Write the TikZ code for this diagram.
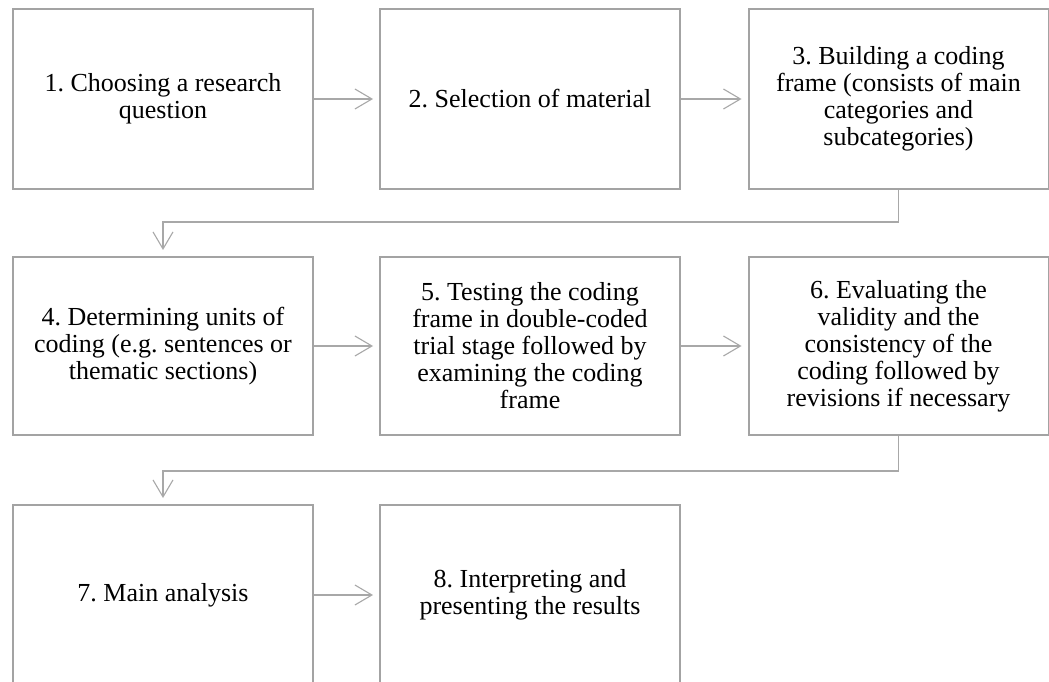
\documentclass[tikz,border=0pt]{standalone}
\usepackage{fontspec}
\setmainfont{Liberation Serif}
\usetikzlibrary{arrows.meta}
\definecolor{boxgray}{HTML}{A3A3A3}
\definecolor{linegray}{HTML}{A8A8A8}
\frenchspacing
\begin{document}
\begin{tikzpicture}[x=1pt,y=1pt,
  stepbox/.style={draw=boxgray, line width=2pt, minimum width=300pt, minimum height=180pt,
    align=center, font=\fontsize{26}{27}\selectfont\frenchspacing, inner sep=0pt, text=black},
  conn/.style={draw=linegray, line width=1.1pt,
    -{Straight Barb[length=17pt,width=20pt,line width=1.1pt]}, shorten >=6pt}]
\clip (0,0) rectangle (1049,681);
\fill[white] (0,0) rectangle (1049,681);
\node[stepbox] (n1) at (163,582) {1. Choosing a research\\question};
\node[stepbox] (n2) at (530,582) {2. Selection of material};
\node[stepbox] (n3) at (898.5,582) {3. Building a coding\\frame (consists of main\\categories and\\subcategories)};
\node[stepbox, minimum height=178pt] (n4) at (163,335) {4. Determining units of\\coding (e.g. sentences or\\thematic sections)};
\node[stepbox, minimum height=178pt] (n5) at (530,335) {5. Testing the coding\\frame in double-coded\\trial stage followed by\\examining the coding\\frame};
\node[stepbox, minimum height=178pt] (n6) at (898.5,335) {6. Evaluating the\\validity and the\\consistency of the\\coding followed by\\revisions if necessary};
\node[stepbox] (n7) at (163,86) {7. Main analysis};
\node[stepbox] (n8) at (530,86) {8. Interpreting and\\presenting the results};
\coordinate (m1) at (530,459);
\coordinate (m2) at (530,210);
\draw[conn] (n1) -- (n2);
\draw[conn] (n2) -- (n3);
\draw[conn] (n3.south) |- (m1) -| (n4.north);
\draw[conn] (n4) -- (n5);
\draw[conn] (n5) -- (n6);
\draw[conn] (n6.south) |- (m2) -| (n7.north);
\draw[conn] (n7) -- (n8);
\end{tikzpicture}
\end{document}
